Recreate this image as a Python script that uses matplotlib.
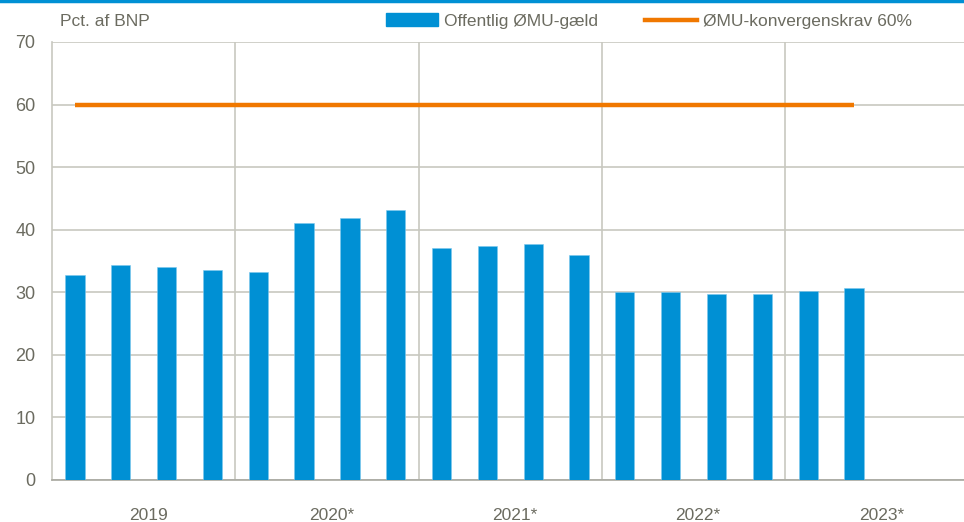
import matplotlib
matplotlib.use("Agg")
import matplotlib.pyplot as plt
from matplotlib import font_manager as fm
from matplotlib.patches import Patch
from matplotlib.lines import Line2D
import numpy as np

names = {f.name for f in fm.fontManager.ttflist}
fam = "Liberation Sans Narrow" if "Liberation Sans Narrow" in names else "Liberation Sans"
plt.rcParams['font.family'] = [fam, 'DejaVu Sans']

years = ["2019", "2020*", "2021*", "2022*", "2023*"]
debt = [32.8, 34.3, 34.1, 33.5,
        33.3, 41.0, 41.8, 43.1,
        37.1, 37.4, 37.7, 35.9,
        30.1, 30.0, 29.8, 29.75,
        30.25, 30.7]
conv_req = [60.0] * len(debt)

blue = "#0090d4"
orange = "#f07800"
grid_c = "#c8c8c0"
txt_c = "#6b6b60"
fs = 12.5

fig = plt.figure(figsize=(9.64, 5.22), dpi=100)
ax = fig.add_axes([52/964, 1 - 480/522, 1 - 52/964, (480 - 42)/522])

x = np.arange(len(debt))
ax.bar(x, debt, width=0.42, color=blue, edgecolor="#7cc8ee", linewidth=0.4, zorder=3)
ax.plot(x, conv_req, color=orange, linewidth=3.2, solid_capstyle="butt", zorder=4)

ax.set_xlim(-0.5, 19.4)
ax.set_ylim(0, 70)
ax.set_yticks(range(0, 71, 10))
ax.yaxis.grid(True, color=grid_c, linewidth=1.2, zorder=0)
for b in [3.5, 7.5, 11.5, 15.5]:
    ax.axvline(b, color=grid_c, linewidth=1.2, zorder=0)
for s in ["top", "right"]:
    ax.spines[s].set_visible(False)
ax.spines["left"].set_color(grid_c)
ax.spines["left"].set_linewidth(1.2)
ax.spines["bottom"].set_color("#a8a8a0")
ax.spines["bottom"].set_linewidth(1.2)

centers = [4 * i + 1.6 for i in range(len(years))]
ax.set_xticks(centers)
ax.set_xticklabels(years)
ax.tick_params(axis="x", length=0, pad=20, labelsize=fs, labelcolor=txt_c)
ax.tick_params(axis="y", length=0, pad=12, labelsize=13, labelcolor=txt_c)

fig.text(60/964, 1 - 22/522, "Pct. af BNP", fontsize=fs, color=txt_c, va="center", ha="left")

handles = [Patch(facecolor=blue, edgecolor=blue), Line2D([], [], color=orange, linewidth=3.2)]
leg = fig.legend(handles, ["Offentlig ØMU-gæld", "ØMU-konvergenskrav 60%"],
                 loc="center left", bbox_to_anchor=(386/964, 1 - 21/522), ncol=2,
                 frameon=False, fontsize=fs, handlelength=3.0, handleheight=0.7,
                 columnspacing=2.7, handletextpad=0.35, borderaxespad=0, borderpad=0)
for t in leg.get_texts():
    t.set_color(txt_c)

fig.add_artist(Line2D([0, 1], [1 - 1/522, 1 - 1/522], transform=fig.transFigure,
                      color=blue, linewidth=2.5))

fig.savefig("out.png", dpi=100)
